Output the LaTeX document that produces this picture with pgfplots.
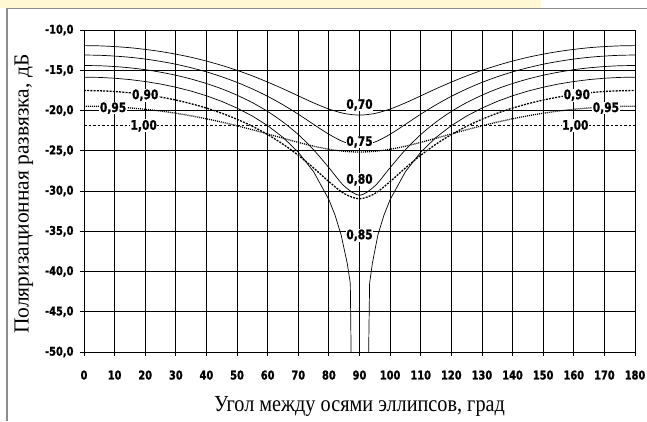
\documentclass[border=0pt]{standalone}
\usepackage{pgfplots}
\usepackage{pgfplotstable}
\pgfplotsset{compat=1.18}
\usepackage{fontspec}
\setmainfont{Liberation Serif}
\newfontfamily\tickfont{DejaVu Sans}[BoldFont={DejaVu Sans Bold}, BoldFeatures={FakeBold=1.5}]
\definecolor{banner}{HTML}{FFF8D2}
\definecolor{framegray}{HTML}{8C8C8C}
\tikzset{lbl/.style={fill=white, inner sep=0.6pt, font=\tickfont\bfseries\fontsize{13}{15}\selectfont}}
\newcommand{\sq}[1]{\scalebox{0.82}[1]{#1}}

\pgfplotstableread{
theta c70 c75 c80 c90 c95
0   -11.94 -13.11 -14.41 -17.52 -19.47
5   -11.97 -13.14 -14.44 -17.55 -19.49
10  -12.06 -13.24 -14.54 -17.64 -19.56
15  -12.20 -13.39 -14.70 -17.80 -19.68
20  -12.41 -13.61 -14.93 -18.03 -19.85
25  -12.67 -13.90 -15.24 -18.33 -20.07
30  -13.00 -14.25 -15.62 -18.70 -20.34
35  -13.39 -14.69 -16.09 -19.16 -20.66
40  -13.86 -15.20 -16.65 -19.70 -21.03
45  -14.40 -15.81 -17.31 -20.34 -21.44
50  -15.01 -16.51 -18.10 -21.09 -21.90
55  -15.70 -17.32 -19.02 -21.96 -22.39
60  -16.47 -18.24 -20.12 -22.99 -22.91
65  -17.30 -19.29 -21.43 -24.18 -23.44
70  -18.18 -20.46 -22.99 -25.56 -23.96
75  -19.05 -21.72 -24.88 -27.14 -24.43
80  -19.82 -22.95 -27.10 -28.83 -24.81
85  -20.37 -23.92 -29.38 -30.32 -25.07
90  -20.57 -24.30 -30.53 -30.97 -25.16
95  -20.37 -23.92 -29.38 -30.32 -25.07
100 -19.82 -22.95 -27.10 -28.83 -24.81
105 -19.05 -21.72 -24.88 -27.14 -24.43
110 -18.18 -20.46 -22.99 -25.56 -23.96
115 -17.30 -19.29 -21.43 -24.18 -23.44
120 -16.47 -18.24 -20.12 -22.99 -22.91
125 -15.70 -17.32 -19.02 -21.96 -22.39
130 -15.01 -16.51 -18.10 -21.09 -21.90
135 -14.40 -15.81 -17.31 -20.34 -21.44
140 -13.86 -15.20 -16.65 -19.70 -21.03
145 -13.39 -14.69 -16.09 -19.16 -20.66
150 -13.00 -14.25 -15.62 -18.70 -20.34
155 -12.67 -13.90 -15.24 -18.33 -20.07
160 -12.41 -13.61 -14.93 -18.03 -19.85
165 -12.20 -13.39 -14.70 -17.80 -19.68
170 -12.06 -13.24 -14.54 -17.64 -19.56
175 -11.97 -13.14 -14.44 -17.55 -19.49
180 -11.94 -13.11 -14.41 -17.52 -19.47
}\datatab

\pgfplotstableread{
theta c85
0   -15.86
5   -15.89
10  -15.99
15  -16.16
20  -16.40
25  -16.71
30  -17.11
35  -17.59
40  -18.17
45  -18.87
50  -19.70
55  -20.69
60  -21.88
65  -23.34
70  -25.18
75  -27.60
80  -31.07
82  -32.99
84  -35.47
86  -38.99
87  -41.48
87.4 -55
92.8 -55
93.3 -41.48
94.2 -38.99
96  -35.47
98  -32.99
100 -31.07
105 -27.60
110 -25.18
115 -23.34
120 -21.88
125 -20.69
130 -19.70
135 -18.87
140 -18.17
145 -17.59
150 -17.11
155 -16.71
160 -16.40
165 -16.16
170 -15.99
175 -15.89
180 -15.86
}\tabeightyfive

\begin{document}
\begin{tikzpicture}[x=1pt,y=1pt]
\fill[banner] (0,413) rectangle (541,421);
\draw[framegray, line width=1.6pt] (7,0) -- (7,412.6) -- (647,412.6);
\begin{axis}[
  at={(84pt,69pt)}, anchor=south west,
  scale only axis, width=551pt, height=322pt,
  xmin=0, xmax=180, ymin=-50, ymax=-10,
  xtick={0,10,...,180}, ytick={-50,-45,...,-10},
  grid=major, grid style={black, line width=0.9pt},
  axis line style={black, line width=0.9pt},
  tick style={black, line width=0.9pt},
  tick align=outside, major tick length=4pt, tick pos=left,
  /pgf/number format/assume math mode=true,
  ticklabel style={font=\tickfont\bfseries\fontsize{12}{14}\selectfont},
  xticklabel={\sq{\pgfmathprintnumber{\tick}}},
  yticklabel={\sq{\pgfmathprintnumber[fixed,fixed zerofill,precision=1,use comma]{\tick}}},
  xticklabel style={anchor=north, yshift=-11pt},
  yticklabel style={anchor=east, xshift=-3pt},
  xlabel={\scalebox{0.88}[1]{Угол между осями эллипсов, град}},
  ylabel={Поляризационная развязка, дБ},
  xlabel style={font=\fontsize{23}{26}\selectfont, at={(axis description cs:0.5,-0.17)}, anchor=center},
  ylabel style={font=\fontsize{21.5}{24}\selectfont, at={(axis description cs:-0.109,0.49)}, anchor=center, rotate=0},
]
\addplot[black, line width=0.7pt, smooth] table[x=theta, y=c70] {\datatab};
\addplot[black, line width=0.7pt, smooth] table[x=theta, y=c75] {\datatab};
\addplot[black, line width=0.7pt, smooth] table[x=theta, y=c80] {\datatab};
\addplot[black, line width=0.7pt] table[x=theta, y=c85] {\tabeightyfive};
\addplot[black, line width=1.3pt, dash pattern=on 2pt off 1.2pt, smooth] table[x=theta, y=c90] {\datatab};
\addplot[black, line width=1.3pt, dash pattern=on 1pt off 1pt, smooth] table[x=theta, y=c95] {\datatab};
\addplot[black, line width=1pt, dash pattern=on 2.5pt off 2pt] coordinates {(0,-21.85) (180,-21.85)};
\node[lbl] at (axis cs:20,-18.1) {\sq{0,90}};
\node[lbl] at (axis cs:9.5,-19.7) {\sq{0,95}};
\node[lbl] at (axis cs:19.5,-21.9) {\sq{1,00}};
\node[lbl] at (axis cs:161,-18.1) {\sq{0,90}};
\node[lbl] at (axis cs:170.5,-19.7) {\sq{0,95}};
\node[lbl] at (axis cs:160.5,-21.9) {\sq{1,00}};
\node[lbl] at (axis cs:90,-19.3) {\sq{0,70}};
\node[lbl] at (axis cs:90,-23.9) {\sq{0,75}};
\node[lbl] at (axis cs:90,-28.6) {\sq{0,80}};
\node[lbl] at (axis cs:90,-35.5) {\sq{0,85}};
\end{axis}
\pgfresetboundingbox
\path (0,0) rectangle (647,421);
\end{tikzpicture}
\end{document}
